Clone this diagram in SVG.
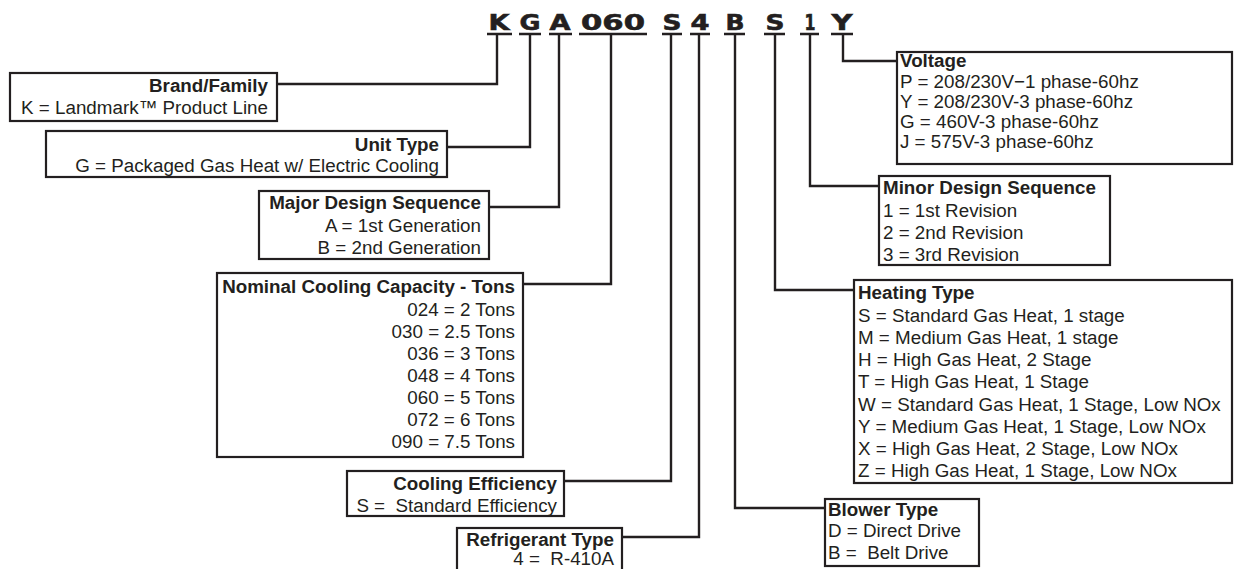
<svg xmlns="http://www.w3.org/2000/svg" width="1238" height="569" viewBox="0 0 1238 569">
<style>
.box{fill:#fff;stroke:#231f20;stroke-width:2.2}
.con{fill:none;stroke:#231f20;stroke-width:2.4}
.ul{fill:none;stroke:#231f20;stroke-width:2.4}
text{font-family:"Liberation Sans",Arial,sans-serif;font-size:18.8px;fill:#231f20}
.t{font-weight:bold}
.r{text-anchor:end}
.h{font-family:"DejaVu Sans",sans-serif;font-weight:900;font-size:22px;text-anchor:middle;stroke:#231f20;stroke-width:0.6}
</style>
<rect width="1238" height="569" fill="#fff"/>
<g id="code">
<text class="h" x="499" y="30" textLength="21" lengthAdjust="spacingAndGlyphs">K</text>
<text class="h" x="530" y="30" textLength="21" lengthAdjust="spacingAndGlyphs">G</text>
<text class="h" x="560" y="30" textLength="21" lengthAdjust="spacingAndGlyphs">A</text>
<text class="h" x="613" y="30" textLength="64" lengthAdjust="spacingAndGlyphs">060</text>
<text class="h" x="672" y="30" textLength="19" lengthAdjust="spacingAndGlyphs">S</text>
<text class="h" x="700" y="30" textLength="19" lengthAdjust="spacingAndGlyphs">4</text>
<text class="h" x="735" y="30" textLength="19" lengthAdjust="spacingAndGlyphs">B</text>
<text class="h" x="775" y="30" textLength="19" lengthAdjust="spacingAndGlyphs">S</text>
<text class="h" x="810" y="30" textLength="11" lengthAdjust="spacingAndGlyphs">1</text>
<text class="h" x="842" y="30" textLength="21" lengthAdjust="spacingAndGlyphs">Y</text>
<path class="ul" d="M487 34H512M519 34H541M549 34H572M579 34H647M662 34H682M690 34H710M724 34H745M764 34H785M800 34H819M831 34H853"/>
</g>
<g id="connectors">
<polyline class="con" points="497,34 497,84 277,84"/>
<polyline class="con" points="530,34 530,147 447,147"/>
<polyline class="con" points="559,34 559,207 489,207"/>
<polyline class="con" points="611,34 611,284 523,284"/>
<polyline class="con" points="671,34 671,481 564,481"/>
<polyline class="con" points="699,34 699,537 622,537"/>
<polyline class="con" points="735,34 735,508 825,508"/>
<polyline class="con" points="775,34 775,290 854,290"/>
<polyline class="con" points="810,34 810,186 879,186"/>
<polyline class="con" points="843,34 843,61 897,61"/>
</g>
<g id="brand">
<rect class="box" x="10" y="73" width="267" height="48"/>
<text class="t r" x="268" y="92">Brand/Family</text>
<text class="r" x="268" y="114">K = Landmark™ Product Line</text>
</g>
<g id="unit-type">
<rect class="box" x="46" y="131" width="401" height="46"/>
<text class="t r" x="439" y="151">Unit Type</text>
<text class="r" x="439" y="172">G = Packaged Gas Heat w/ Electric Cooling</text>
</g>
<g id="major-design">
<rect class="box" x="259" y="191" width="230" height="68"/>
<text class="t r" x="481" y="209">Major Design Sequence</text>
<text class="r" x="481" y="232">A = 1st Generation</text>
<text class="r" x="481" y="254">B = 2nd Generation</text>
</g>
<g id="nominal-cooling">
<rect class="box" x="217" y="273" width="306" height="184"/>
<text class="t r" x="515" y="293">Nominal Cooling Capacity - Tons</text>
<text class="r" x="515" y="316">024 = 2 Tons</text>
<text class="r" x="515" y="338">030 = 2.5 Tons</text>
<text class="r" x="515" y="360">036 = 3 Tons</text>
<text class="r" x="515" y="382">048 = 4 Tons</text>
<text class="r" x="515" y="404">060 = 5 Tons</text>
<text class="r" x="515" y="426">072 = 6 Tons</text>
<text class="r" x="515" y="448">090 = 7.5 Tons</text>
</g>
<g id="cooling-efficiency">
<rect class="box" x="347" y="471" width="217" height="45"/>
<text class="t r" x="557" y="490">Cooling Efficiency</text>
<text class="r" x="557" y="512" xml:space="preserve">S =  Standard Efficiency</text>
</g>
<g id="refrigerant">
<rect class="box" x="457" y="528" width="165" height="50"/>
<text class="t r" x="614" y="546">Refrigerant Type</text>
<text class="r" x="614" y="565" xml:space="preserve">4 =  R-410A</text>
</g>
<g id="voltage">
<rect class="box" x="897" y="52" width="335" height="112"/>
<text class="t" x="900" y="67">Voltage</text>
<text x="900" y="88">P = 208/230V−1 phase-60hz</text>
<text x="900" y="108">Y = 208/230V-3 phase-60hz</text>
<text x="900" y="128">G = 460V-3 phase-60hz</text>
<text x="900" y="148">J = 575V-3 phase-60hz</text>
</g>
<g id="minor-design">
<rect class="box" x="879" y="176" width="231" height="89"/>
<text class="t" x="883" y="194">Minor Design Sequence</text>
<text x="883" y="217">1 = 1st Revision</text>
<text x="883" y="239">2 = 2nd Revision</text>
<text x="883" y="261">3 = 3rd Revision</text>
</g>
<g id="heating-type">
<rect class="box" x="854" y="280" width="378" height="203"/>
<text class="t" x="858" y="299">Heating Type</text>
<text x="858" y="322">S = Standard Gas Heat, 1 stage</text>
<text x="858" y="344">M = Medium Gas Heat, 1 stage</text>
<text x="858" y="366">H = High Gas Heat, 2 Stage</text>
<text x="858" y="388">T = High Gas Heat, 1 Stage</text>
<text x="858" y="411">W = Standard Gas Heat, 1 Stage, Low NOx</text>
<text x="858" y="433">Y = Medium Gas Heat, 1 Stage, Low NOx</text>
<text x="858" y="455">X = High Gas Heat, 2 Stage, Low NOx</text>
<text x="858" y="477">Z = High Gas Heat, 1 Stage, Low NOx</text>
</g>
<g id="blower-type">
<rect class="box" x="825" y="499" width="154" height="67"/>
<text class="t" x="828" y="516">Blower Type</text>
<text x="828" y="537">D = Direct Drive</text>
<text x="828" y="559" xml:space="preserve">B =  Belt Drive</text>
</g>
</svg>
